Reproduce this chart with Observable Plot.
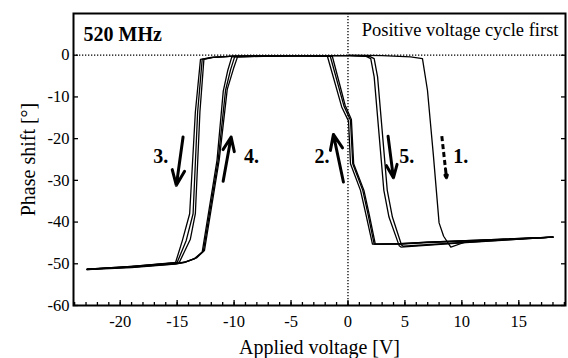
<!DOCTYPE html>
<html><head><meta charset="utf-8">
<script src="https://cdn.jsdelivr.net/npm/d3@7"></script>
<script src="https://cdn.jsdelivr.net/npm/@observablehq/plot@0.6"></script>
<style>html,body{margin:0;padding:0;background:#fff;} svg{display:block;} svg text{font-family:'Liberation Serif','Times New Roman',serif;}</style>
</head><body><div id="chart"></div>
<script>
// Voltage sweeps [applied voltage V, phase shift °], in measurement order
const sweep1 = [[0,0],[3,-0.1],[5.5,-0.4],[6.54,-0.8],[6.98,-8.4],[7.5,-24],[8.0,-40.2],[8.4,-43.4],[9.03,-46.0],[10.5,-44.6],[14,-44.1],[18.0,-43.6]];
const sweep2 = [[18.0,-43.6],[12,-44.4],[7,-44.9],[4.6,-45.3],[2.15,-45.3],[1.56,-38.0],[1.1,-32.4],[0.22,-26.0],[0.05,-15.8],[-0.55,-12.4],[-1.8,-0.3],[-5,-0.1],[-10,-0.2],[-12.0,-0.5],[-12.95,-1.0],[-13.4,-13.6],[-13.9,-38],[-14.55,-44.5],[-15.15,-49.8],[-19,-50.7],[-22.9,-51.4]];
const sweep3 = [[-22.9,-51.4],[-19,-50.9],[-15.2,-50.1],[-14.4,-49.7],[-13.5,-48.8],[-12.8,-47.2],[-11.5,-25.2],[-10.95,-8.6],[-10.55,-3.6],[-10.2,-0.4],[-5,-0.1],[0,-0.1],[1.6,-0.3],[2.0,-0.8],[2.3,-5.2],[3.15,-32.4],[3.6,-38.8],[4.5,-45.7],[4.65,-46.0],[10,-45.0],[18.0,-43.6]];
const sweep4 = [[18.0,-43.6],[12,-44.3],[7,-44.8],[4.6,-45.2],[2.3,-45.3],[1.75,-38.0],[1.3,-32.4],[0.42,-26.0],[0.22,-15.6],[-0.35,-12.2],[-1.55,-0.3],[-5,-0.1],[-10,-0.2],[-11.9,-0.5],[-12.8,-1.0],[-13.2,-13.6],[-13.6,-38],[-14.2,-44.4],[-15.0,-49.7],[-19,-50.6],[-22.9,-51.3]];
const sweep5 = [[-22.9,-51.3],[-19,-50.8],[-15.1,-50.0],[-14.3,-49.6],[-13.4,-48.7],[-12.7,-47.0],[-11.4,-25.2],[-10.75,-8.4],[-10.3,-3.4],[-9.95,-0.4],[-5,-0.1],[0,-0.1],[1.9,-0.3],[2.3,-0.8],[2.6,-5.2],[3.45,-32.4],[3.9,-38.8],[4.7,-45.5],[4.85,-45.8],[10,-44.9],[18.0,-43.6]];
const sweep6 = [[18.0,-43.6],[12,-44.3],[7,-44.8],[4.6,-45.2],[2.4,-45.3],[1.85,-38.0],[1.4,-32.4],[0.5,-26.0],[0.3,-15.4],[-0.25,-12.0],[-1.37,-0.3],[-5,-0.1],[-10,-0.2],[-11.8,-0.5],[-12.65,-1.0],[-13.0,-13.6],[-13.4,-38],[-13.85,-44.2],[-14.8,-49.6],[-19,-50.6],[-22.9,-51.3]];
const sweep7 = [[-22.9,-51.3],[-19,-50.8],[-15.0,-49.9],[-14.2,-49.5],[-13.3,-48.6],[-12.6,-46.8],[-11.3,-25.0],[-10.6,-8.2],[-10.05,-3.2],[-9.7,-0.4],[-5,-0.1],[0,-0.1]];

const xTickValues = [-20, -15, -10, -5, 0, 5, 10, 15];
const yTickValues = [0, -10, -20, -30, -40, -50, -60];
const xMinorTicks = d3.range(-24, 20);

// Sweep-direction annotations (data units)
const arrowNotes = [
  {label: "1.", x1: 8.24, y1: -19.4, x2: 8.65, y2: -29.4, lx: 9.9, ly: -24.4, dashed: true},
  {label: "2.", x1: -0.40, y1: -30.4, x2: -1.28, y2: -19.0, lx: -2.29, ly: -24.4, dashed: false},
  {label: "3.", x1: -14.48, y1: -19.6, x2: -15.07, y2: -31.2, lx: -16.43, ly: -24.4, dashed: false},
  {label: "4.", x1: -10.96, y1: -30.2, x2: -10.26, y2: -19.6, lx: -8.47, ly: -24.4, dashed: false},
  {label: "5.", x1: 3.52, y1: -19.4, x2: 3.99, y2: -29.4, lx: 5.16, ly: -24.4, dashed: false}
];

const sweeps = [sweep1, sweep2, sweep3, sweep4, sweep5, sweep6, sweep7];
const rows = sweeps.flatMap((s, i) => s.map(([v, p]) => ({sweep: i, v, p})));
const solidArrows = arrowNotes.filter(d => !d.dashed);
const dashedArrows = arrowNotes.filter(d => d.dashed);
const dashShaft = dashedArrows.map(d => ({x1: d.x1, y1: d.y1, x2: d.x1 + (d.x2 - d.x1) * 0.72, y2: d.y1 + (d.y2 - d.y1) * 0.72}));
const dashHead = dashedArrows.map(d => ({x1: d.x1 + (d.x2 - d.x1) * 0.78, y1: d.y1 + (d.y2 - d.y1) * 0.78, x2: d.x2, y2: d.y2}));

const serif = "'Liberation Serif', 'Times New Roman', serif";
const W = 568, H = 358, ML = 73, MR = 3, MT = 13, MB = 53;
const frameW = W - ML - MR, frameH = H - MT - MB;

const chart = Plot.plot({
  width: W,
  height: H,
  marginLeft: ML,
  marginRight: MR,
  marginTop: MT,
  marginBottom: MB,
  style: {fontFamily: serif, fontSize: "16.5px", color: "black", background: "white"},
  x: {domain: [-24.1, 19.1], label: null},
  y: {domain: [-60, 10], label: null},
  marks: [
    Plot.ruleY([0], {stroke: "black", strokeWidth: 1.3, strokeDasharray: "1.3,1.7"}),
    Plot.ruleX([0], {stroke: "black", strokeWidth: 1.3, strokeDasharray: "1.3,1.7"}),
    Plot.line(rows, {x: "v", y: "p", z: "sweep", stroke: "black", strokeWidth: 1.3, strokeLinejoin: "round"}),
    Plot.arrow(solidArrows, {x1: "x1", y1: "y1", x2: "x2", y2: "y2", stroke: "black", strokeWidth: 3, headLength: 9, headAngle: 45, inset: 0}),
    Plot.link(dashShaft, {x1: "x1", y1: "y1", x2: "x2", y2: "y2", stroke: "black", strokeWidth: 3, strokeDasharray: "5,3"}),
    Plot.arrow(dashHead, {x1: "x1", y1: "y1", x2: "x2", y2: "y2", stroke: "black", strokeWidth: 3, headLength: 9, headAngle: 45, inset: 0}),
    Plot.text(arrowNotes, {x: "lx", y: "ly", text: "label", fontSize: 20, fontWeight: "bold", fontFamily: serif, fill: "black", textAnchor: "middle", lineAnchor: "middle"}),
    Plot.axisX(xTickValues, {anchor: "bottom", tickSize: 0, tickPadding: 10, tickFormat: d => String(d), label: null, fontFamily: serif, fontSize: 16.5}),
    Plot.axisY(yTickValues, {anchor: "left", tickSize: 0, tickPadding: 4, tickFormat: d => String(d), label: null, fontFamily: serif, fontSize: 16.5}),
    // inward ticks
    Plot.tickX(xTickValues, {x: d => d, stroke: "black", strokeWidth: 1.3, insetTop: frameH - 5}),
    Plot.tickX(xMinorTicks, {x: d => d, stroke: "black", strokeWidth: 1.3, insetTop: frameH - 3}),
    Plot.tickY(yTickValues, {y: d => d, stroke: "black", strokeWidth: 1.3, insetRight: frameW - 5}),
    Plot.tickY(yTickValues, {y: d => d, stroke: "black", strokeWidth: 1.3, insetLeft: frameW - 4}),
    Plot.frame({stroke: "black", strokeWidth: 2}),
    Plot.text(["520 MHz"], {frameAnchor: "top-left", dx: 10, dy: 27, textAnchor: "start", lineAnchor: "bottom", fontSize: 20, fontWeight: "bold", fontFamily: serif, fill: "black"}),
    Plot.text(["Positive voltage cycle first"], {frameAnchor: "top-right", dx: -7, dy: 22, textAnchor: "end", lineAnchor: "bottom", fontSize: 18.5, fontFamily: serif, fill: "black"}),
    Plot.text(["Applied voltage [V]"], {frameAnchor: "bottom", dy: 48, textAnchor: "middle", lineAnchor: "bottom", fontSize: 20, fontFamily: serif, fill: "black"}),
    Plot.text(["Phase shift [°]"], {frameAnchor: "left", dx: -39, rotate: -90, textAnchor: "middle", lineAnchor: "bottom", fontSize: 20, fontFamily: serif, fill: "black"})
  ]
});
document.getElementById("chart").appendChild(chart);
</script>
</body></html>
